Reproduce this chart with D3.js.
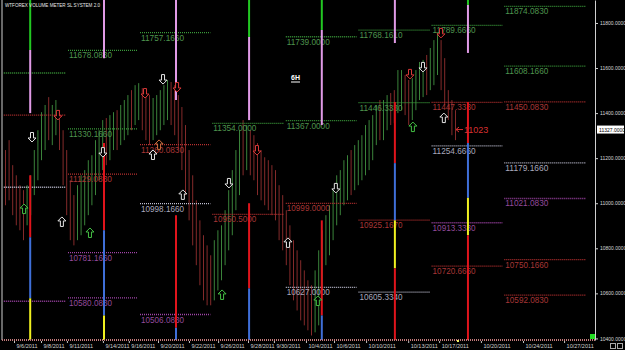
<!DOCTYPE html>
<html><head><meta charset="utf-8">
<script src="https://cdn.jsdelivr.net/npm/d3@7"></script>
<style>html,body{margin:0;padding:0;background:#000;overflow:hidden}</style>
</head><body><svg id="c" width="625" height="350"></svg>
<script>
// ---- price bars (6H), highs / lows ----
const highs=[11236,11280,11169,11124,11080,11058,11080,11124,11236,11324,
11404,11436,11471,11436,11458,11413,11324,11236,11102,11036,
11080,11124,11147,11191,11213,11280,11324,11369,11378,11391,
11404,11413,11436,11458,11480,11502,11524,11533,11511,11493,
11480,11467,11480,11502,11524,11547,11538,11524,11480,11427,
11347,11236,11124,11013,10924,10858,10813,10769,10836,10880,
10902,10969,11058,11147,11236,11324,11369,11347,11324,11302,
11267,11236,11204,11191,11169,11147,11080,11036,10969,10902,
10836,10791,10747,10702,10658,10636,10702,10791,10880,10947,
10991,11058,11124,11147,11191,11213,11236,11258,11280,11302,
11347,11369,11391,11436,11458,11458,11480,11489,11502,11591,
11591,11569,11547,11555,11591,11627,11636,11658,11689,11724,
11755,11724,11644,11502,11458,11413];
const lows=[10991,11013,10947,10902,10880,10836,10902,10947,11036,11102,
11191,11236,11280,11258,11302,11236,11080,10947,10836,10813,
10836,10858,10902,10947,10991,11036,11102,11147,11169,11191,
11236,11236,11258,11280,11302,11324,11347,11369,11324,11280,
11258,11280,11302,11324,11347,11369,11347,11302,11236,11147,
11036,10924,10813,10725,10636,10569,10547,10547,10569,10613,
10658,10725,10791,10858,10969,11036,11124,11147,11124,11102,
11036,11013,10991,10969,10947,10924,10836,10791,10725,10636,
10569,10524,10480,10458,10436,10413,10427,10458,10613,10725,
10769,10836,10902,10947,10991,11013,11036,11058,11080,11102,
11124,11147,11191,11258,11280,11280,11324,11347,11355,11400,
11413,11391,11347,11369,11413,11458,11471,11480,11502,11524,
11569,11502,11436,11369,11302,11280];
const dirs=("rrrrrrgggg"+"ggrggrrrrr"+"ggggggggrg"+"grgggrggrr"+"rgggggrrrr"+
"rrrrrrrrgg"+"ggggggrgrr"+"rrrrrrrrrr"+"rrrrrrgggg"+"ggggggrggg"+
"ggggrggrrg"+"grrggggrgg"+"grrrrr").split("");

// ---- weekly level segments ----
const weekStarts=[-22,17.5,37.5,57.6,78,98.2,118.5,138.7];
const weekEnd=162;
const levelWeek=[0,0,0,0, 1,1,1,1,1, 2,2,2,2, 3,3, 4,4,4,4, 5,5,5,5, 6,6,6,6,6, 7,7,7,7,7,7,7];
const levelValue=[11578,11391,11071,10565,
 11678.083,11330.166,11129.083,10781.166,10580.083,
 11757.166,11260.083,10998.166,10506.083,
 11354,10950.5,
 11739,11367,10999,10627,
 11768.161,11446.333,10925.167,10605.334,
 11789.666,11447.333,11254.666,10913.333,10720.666,
 11874.083,11608.166,11450.083,11179.166,11021.083,10750.166,10592.083];
const levelKind=["g","r","w","p", "g","g","r","p","p", "g","r","w","p", "g","r",
 "g","g","r","w", "g","g","r","w", "g","r","w","p","r", "g","g","r","w","p","r","r"];

// ---- vertical colour bars ----
const vIdx=[7,27.5,47.5,67.8,88,108.3,128.6];
const vSegs=[
 [[11902,11680,"G"],[11680,11400,"P"],[11124,10849,"R"],[10849,10578,"B"],[10578,10393,"Y"]],
 [[11902,11644,"P"],[11267,10880,"R"],[10880,10502,"B"],[10502,10393,"Y"]],
 [[11902,11458,"P"],[10947,10447,"R"],[10447,10393,"B"]],
 [[11902,11738,"G"],[11738,11369,"P"],[11000,10622,"R"],[10622,10393,"B"]],
 [[11902,11769,"G"],[11769,11347,"P"],[10924,10502,"R"],[10502,10393,"B"]],
 [[11902,11711,"P"],[11449,11178,"R"],[11178,10924,"B"],[10924,10711,"Y"],[10711,10393,"R"]],
 [[11902,11880,"G"],[11880,11667,"P"],[11449,11267,"R"],[11267,11024,"B"],[11024,10858,"Y"],[10858,10393,"R"]]
];

// ---- signal arrows ----
const arrowIdx=[43.9,38.9,47.8,14.7,7.5,27.2,42.8,41.1,49.4,5.3,15.8,23.6,62.2,70,91.9,78.6,60.3,86.9,112.5,116.1,121.9,113.3,121.1];
const arrowPrice=[11551,11489,11516,11392,11294,11227,11259,11214,11037,10974,10917,10868,11090,11236,11068,10824,10593,10566,11574,11605,11378,11338,11756];
const arrowDir=["d","d","d","d","d","d","u","u","u","u","u","u","d","d","d","u","u","u","d","d","u","u","d"];
const arrowColor=["W","R","R","R","W","W","O","W","W","G","W","G","W","R","W","W","G","G","R","W","W","G","R"];

// ---- axes ----
const priceTicks=[10400,10600,10800,11000,11200,11400,11600,11800];
const currentPrice=11327;
const dateLabels=["9/6/2011","9/8/2011","9/11/2011","9/14/2011","9/16/2011","9/20/2011","9/22/2011","9/26/2011","9/28/2011","9/30/2011","10/4/2011","10/6/2011","10/10/2011","10/13/2011","10/17/2011","10/20/2011","10/24/2011","10/27/2011"];
const dateIdx=[2.5,10,17.2,27.2,34.4,42.5,51.1,59.2,67.5,74.7,83.6,91.4,100.3,112,120.6,132.2,143.9,155.3];

const svg=d3.select("#c");
svg.append("rect").attr("width",625).attr("height",350).attr("fill","#000");
const x=d3.scaleLinear().domain([0,164]).range([5,595.4]);
const y=d3.scaleLinear().domain([10393,11902]).range([340,0]);

svg.append("clipPath").attr("id","pc").append("rect").attr("x",3).attr("y",0).attr("width",592).attr("height",341);
const plot=svg.append("g").attr("clip-path","url(#pc)");

// bars
plot.append("g").selectAll("line").data(highs.map((h,i)=>({i,h,l:lows[i],d:dirs[i]}))).join("line")
 .attr("x1",d=>x(d.i)+0.5).attr("x2",d=>x(d.i)+0.5)
 .attr("y1",d=>y(d.h)).attr("y2",d=>y(d.l))
 .attr("stroke",d=>d.d==="g"?"#3a833a":"#842a2a").attr("stroke-width",1);

// levels
const lvlStroke={g:"#3a9a3a",r:"#b83030",w:"#c0c0d4",p:"#a044a8"};
const lvlText={g:"#4e944e",r:"#a83636",w:"#a8a8bc",p:"#944a9c"};
const lv=levelValue.map((v,k)=>{const w=levelWeek[k];
 const s=weekStarts[w], e=(w+1<weekStarts.length?weekStarts[w+1]:weekEnd);
 return {v,k:levelKind[k],x1:x(s),x2:x(e)-2};});
const lg=plot.append("g");
lg.selectAll("line").data(lv).join("line")
 .attr("x1",d=>d.x1).attr("x2",d=>d.x2).attr("y1",d=>y(d.v)).attr("y2",d=>y(d.v))
 .attr("stroke",d=>lvlStroke[d.k]).attr("stroke-width",1.3).attr("stroke-dasharray","1,1");
lg.selectAll("text").data(lv.filter(d=>d.x1>=0)).join("text")
 .attr("x",d=>d.x1+1).attr("y",d=>y(d.v)+8)
 .attr("fill",d=>lvlText[d.k]).attr("font-family","Liberation Sans, Arial, sans-serif")
 .attr("font-size","8.5px").attr("textLength",43).attr("lengthAdjust","spacingAndGlyphs")
 .text(d=>d.v.toFixed(4));

// vertical colour bars
const vCol={G:"#22c822",P:"#e09ae6",R:"#e0141c",B:"#3f6fd8",Y:"#f0f020"};
const vg=plot.append("g");
vIdx.forEach((vi,j)=>{
 vg.selectAll(null).data(vSegs[j]).join("line")
  .attr("x1",x(vi)).attr("x2",x(vi)).attr("y1",d=>y(d[0])).attr("y2",d=>y(d[1]))
  .attr("stroke",d=>vCol[d[2]]).attr("stroke-width",2);
});

// arrows
const aCol={W:"#e4e4e4",R:"#d83838",G:"#44c044",O:"#d07040"};
const upPath="M0,-5L4,-1L1.5,-1L1.5,4.5L-1.5,4.5L-1.5,-1L-4,-1Z";
plot.append("g").selectAll("path").data(arrowIdx.map((a,k)=>({a,p:arrowPrice[k],d:arrowDir[k],c:arrowColor[k]}))).join("path")
 .attr("d",upPath)
 .attr("transform",d=>`translate(${x(d.a)},${y(d.p)}) scale(1,${d.d==="u"?1:-1})`)
 .attr("fill","#000").attr("stroke",d=>aCol[d.c]).attr("stroke-width",1);

// red annotation near last bar
const lastI=highs.length-1;
const ann=plot.append("g").attr("transform",`translate(${x(lastI)},${y(currentPrice)})`);
ann.append("line").attr("x1",1).attr("x2",8).attr("y1",0).attr("y2",0).attr("stroke","#d83030");
ann.append("path").attr("d","M1,0L4,-2.5M1,0L4,2.5").attr("stroke","#d83030").attr("fill","none");
ann.append("text").attr("x",9).attr("y",3.5).attr("fill","#d83030").attr("font-family","Liberation Sans, Arial, sans-serif").attr("font-size","9px").text("11023");

// frame
svg.append("line").attr("x1",2).attr("x2",2).attr("y1",0).attr("y2",340).attr("stroke","#d0d0d0");
svg.append("line").attr("x1",2).attr("x2",595).attr("y1",340).attr("y2",340).attr("stroke","#c07a7a").attr("stroke-width",2).attr("stroke-dasharray","1,1");

// right axis
const ra=svg.append("g").attr("transform","translate(595,0)")
 .call(d3.axisRight(y).tickValues(priceTicks).tickSize(3).tickSizeOuter(0).tickFormat(d=>d.toFixed(4)));
ra.select(".domain").attr("stroke","#d0d0d0");
ra.selectAll(".tick line").attr("stroke","#d0d0d0");
ra.selectAll(".tick text").attr("fill","#d8d8d8").attr("font-size","5px").attr("x",5).attr("font-family","Liberation Sans, Arial, sans-serif");
const cp=svg.append("g").attr("transform",`translate(597,${y(currentPrice)})`);
cp.append("rect").attr("x",0).attr("y",-4).attr("width",27).attr("height",8).attr("fill","#fff");
cp.append("text").attr("x",2).attr("y",2).attr("font-size","5px").attr("fill","#000").attr("font-family","Liberation Sans, Arial, sans-serif").text(currentPrice.toFixed(4));

// bottom axis
const ba=svg.append("g").attr("transform","translate(0,341)")
 .call(d3.axisBottom(x).tickValues(dateIdx).tickSize(2).tickFormat((d,i)=>dateLabels[i]));
ba.select(".domain").remove();
ba.selectAll(".tick line").attr("stroke","#c0c0c0");
ba.selectAll(".tick text").attr("fill","#d0d0d0").attr("font-size","5.5px").attr("text-anchor","start").attr("x",2).attr("dy","0.4em").attr("font-family","Liberation Sans, Arial, sans-serif");

// titles
svg.append("text").attr("x",5).attr("y",7).attr("fill","#e8e8e8").attr("font-size","5.5px").attr("font-family","Liberation Sans, Arial, sans-serif").attr("textLength",95).attr("lengthAdjust","spacingAndGlyphs").text("WTFOREX VOLUME METER  SL SYSTEM 2.0");
svg.append("text").attr("x",291).attr("y",80).attr("fill","#fff").attr("font-size","7px").attr("font-weight","bold").attr("font-family","Liberation Sans, Arial, sans-serif").text("6H");
svg.append("line").attr("x1",291).attr("x2",300).attr("y1",82).attr("y2",82).attr("stroke","#fff");

// small markers
svg.append("rect").attr("x",590).attr("y",334).attr("width",5).attr("height",5).attr("fill","#22dd22");
svg.append("rect").attr("x",457).attr("y",340).attr("width",2).attr("height",2).attr("fill","#f0f060");
svg.append("rect").attr("x",610.5).attr("y",343.5).attr("width",5).attr("height",5).attr("fill","none").attr("stroke","#aaa");
svg.append("rect").attr("x",617.5).attr("y",343.5).attr("width",5).attr("height",5).attr("fill","none").attr("stroke","#aaa");
</script></body></html>
